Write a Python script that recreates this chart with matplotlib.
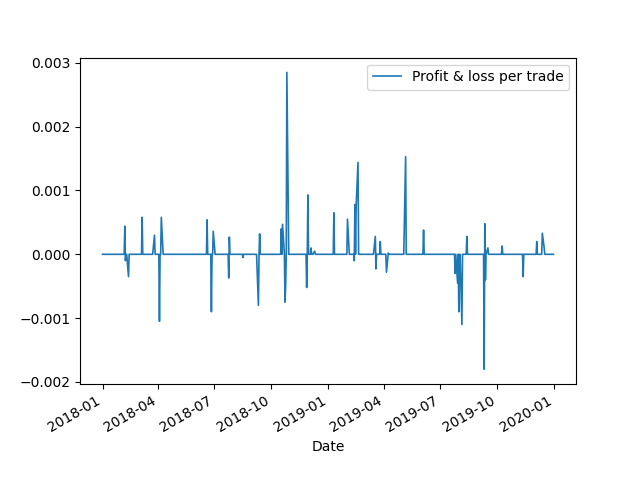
import pandas as pd
import matplotlib
matplotlib.use("Agg")
import matplotlib.pyplot as plt

start_date = "2018-01-01"
end_date = "2019-12-31"
spike_dates = ["2018-02-06", "2018-02-07", "2018-02-12", "2018-03-06", "2018-03-26", "2018-04-03",
               "2018-04-06", "2018-06-19", "2018-06-26", "2018-06-29", "2018-07-24", "2018-07-25",
               "2018-08-16", "2018-09-10", "2018-09-12", "2018-10-17", "2018-10-19", "2018-10-23",
               "2018-10-24", "2018-10-26", "2018-11-27", "2018-11-29", "2018-12-04", "2018-12-10",
               "2019-01-10", "2019-02-01", "2019-02-12", "2019-02-13", "2019-02-15", "2019-02-18",
               "2019-03-18", "2019-03-19", "2019-03-26", "2019-04-05", "2019-04-08", "2019-05-06",
               "2019-06-04", "2019-07-25", "2019-07-29", "2019-07-31", "2019-08-05", "2019-08-13",
               "2019-09-10", "2019-09-11", "2019-09-12", "2019-09-16", "2019-10-09", "2019-11-12",
               "2019-12-04", "2019-12-13", "2019-12-16"]
spike_values = [0.00044, -0.0001, -0.00035, 0.00058, 0.0003, -0.00105,
                0.00058, 0.00054, -0.0009, 0.00036, -0.00037, 0.00027,
                -0.00005, -0.0008, 0.00032, 0.0004, 0.00047, -0.00075,
                -0.0005, 0.00285, -0.00052, 0.00093, 0.0001, 0.00005,
                0.00065, 0.00055, -0.0001, 0.00078, 0.00075, 0.00144,
                0.00028, -0.00023, 0.0002, -0.00028, 0.00002, 0.00153,
                0.00038, -0.0003, -0.00045, -0.0009, -0.0011, 0.00028,
                -0.0018, 0.00048, -0.0004, 0.0001, 0.00013, -0.00035,
                0.0002, 0.00033, 0.0001]

idx = pd.bdate_range(start_date, end_date)
s = pd.Series(0.0, index=idx)
pos = idx.get_indexer(pd.to_datetime(spike_dates), method="nearest")
for p, v in zip(pos, spike_values):
    s.iloc[p] = v

fig, ax = plt.subplots(figsize=(6.4, 4.8), dpi=100)
ax.plot(s.index.to_pydatetime(), s.values, label="Profit & loss per trade", linewidth=1.2)
ax.legend(loc="upper right")
ax.set_xlabel("Date")
fig.autofmt_xdate()
plt.savefig("out.png")
